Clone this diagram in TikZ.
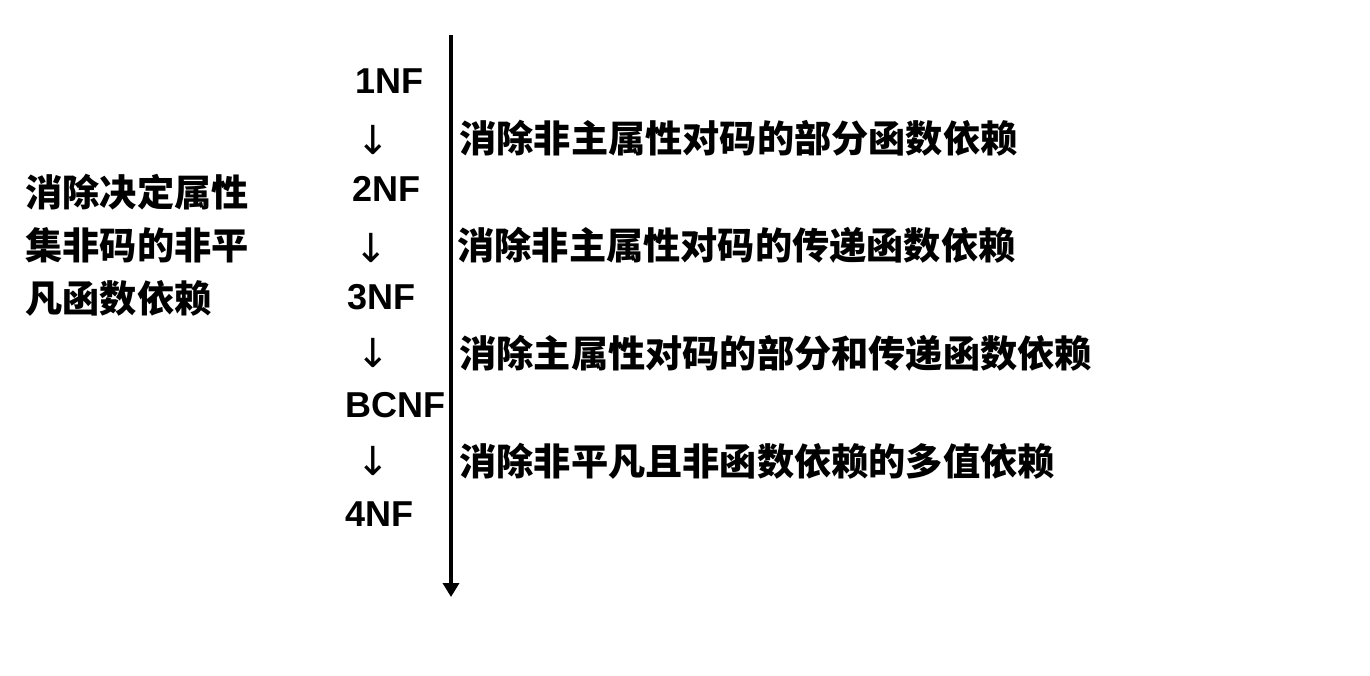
\documentclass[tikz,border=0pt]{standalone}
\usepackage{fontspec}
\setmainfont{Liberation Sans}
\newfontfamily\cjk{Noto Sans CJK SC}
\newfontfamily\symf{DejaVu Sans}
\usetikzlibrary{arrows.meta}
\begin{document}
\begin{tikzpicture}[x=0.5pt,y=-0.5pt,
  nf/.style={anchor=west,inner sep=0pt,font=\fontsize{18}{20}\selectfont\bfseries},
  darr/.style={inner sep=0pt,font=\symf\fontsize{20}{22}\selectfont},
  desc/.style={anchor=west,inner sep=0pt,font=\cjk\bfseries\fontsize{18.6}{22}\selectfont},
  side/.style={anchor=west,inner sep=0pt,align=left,font=\cjk\bfseries\fontsize{18.6}{26.5}\selectfont}]
\useasboundingbox (0,0) rectangle (1370,675);
\coordinate (top) at (451,35);
\coordinate (bot) at (451,597);
\draw[line width=2pt,-{Triangle[length=7pt,width=8pt]}] (top) -- (bot);
\node[nf] (n1) at (355,81) {1NF};
\node[darr] (a1) at (373,140) {↓};
\node[nf] (n2) at (352,189) {2NF};
\node[darr] (a2) at (371,248) {↓};
\node[nf] (n3) at (347,297) {3NF};
\node[darr] (a3) at (373,353) {↓};
\node[nf] (n4) at (345,405) {BCNF};
\node[darr] (a4) at (373,461) {↓};
\node[nf] (n5) at (345,514) {4NF};
\node[desc] (d1) at (459,138) {消除非主属性对码的部分函数依赖};
\node[desc] (d2) at (457,245) {消除非主属性对码的传递函数依赖};
\node[desc] (d3) at (459,353) {消除主属性对码的部分和传递函数依赖};
\node[desc] (d4) at (459,461) {消除非平凡且非函数依赖的多值依赖};
\node[side] (s) at (25,245) {消除决定属性\\集非码的非平\\凡函数依赖};
\end{tikzpicture}
\end{document}
